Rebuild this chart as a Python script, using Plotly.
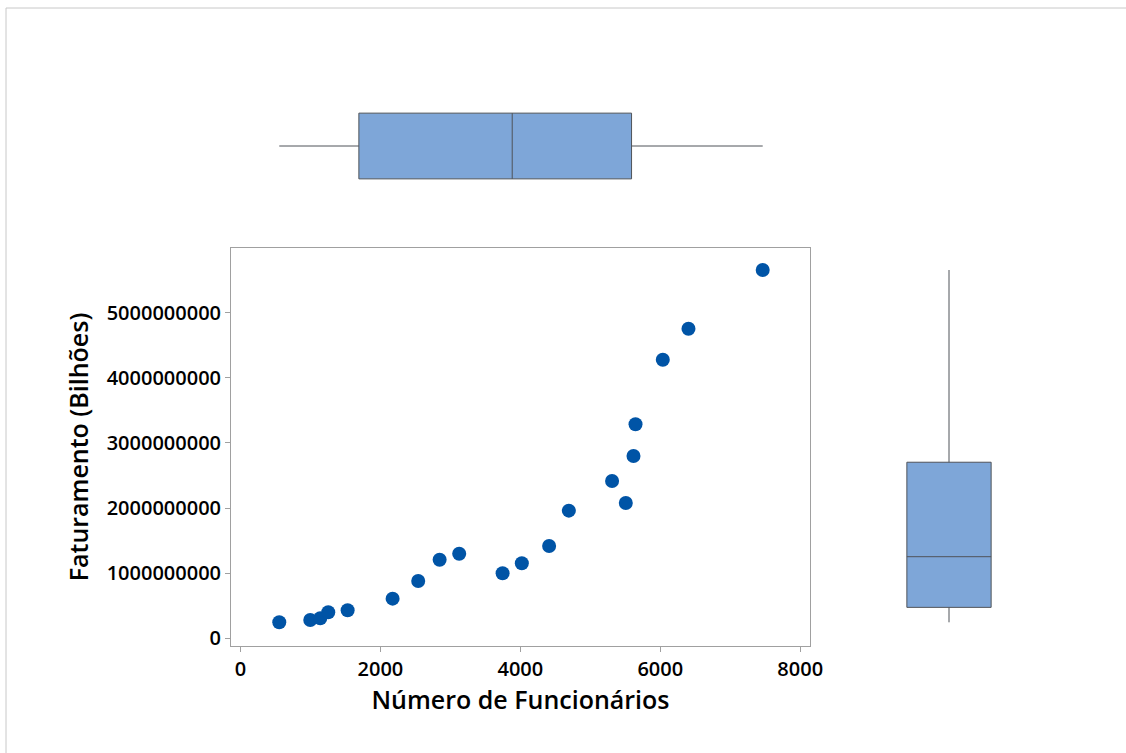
import numpy as np
import plotly.graph_objects as go

# Número de funcionários por empresa
funcionarios = [554, 997, 1140, 1254, 1531, 2174, 2540, 2846, 3126, 3746,
                4021, 4411, 4693, 5311, 5507, 5617, 5646, 6036, 6403, 7464]

# Faturamento correspondente
faturamento = [244000000, 280000000, 306000000, 398000000, 429000000,
               607000000, 879000000, 1206000000, 1298000000, 997000000,
               1151000000, 1416000000, 1959000000, 2415000000, 2077000000,
               2799000000, 3286000000, 4278000000, 4754000000, 5656000000]

x_ticks = [0, 2000, 4000, 6000, 8000]
y_ticks = [0, 1000000000, 2000000000, 3000000000, 4000000000, 5000000000]

W, H = 1126, 753
PONTO = "#0054A6"
CAIXA = "#7EA6D8"
CONTORNO = "#4F5359"
EIXO = "#A0A0A0"
FONTE = "Open Sans"


def px_x(p):
    return p / W


def px_y(p):
    return (H - p) / H


def box_stats(values):
    v = np.asarray(values, dtype=float)
    q1, med, q3 = np.percentile(v, [25, 50, 75], method="weibull")
    iqr = q3 - q1
    lo = v[v >= q1 - 1.5 * iqr].min()
    hi = v[v <= q3 + 1.5 * iqr].max()
    return dict(q1=[q1], median=[med], q3=[q3], lowerfence=[lo], upperfence=[hi])


fig = go.Figure()

fig.add_trace(go.Scatter(
    x=funcionarios, y=faturamento, mode="markers",
    marker=dict(color=PONTO, size=14, line=dict(width=0)),
    xaxis="x", yaxis="y", showlegend=False,
))

fig.add_trace(go.Box(
    orientation="h", y=[0], **box_stats(funcionarios),
    xaxis="x2", yaxis="y2", width=1, whiskerwidth=0,
    fillcolor=CAIXA, line=dict(color=CONTORNO, width=1),
    boxpoints=False, showlegend=False,
))

fig.add_trace(go.Box(
    orientation="v", x=[0], **box_stats(faturamento),
    xaxis="x3", yaxis="y3", width=1, whiskerwidth=0,
    fillcolor=CAIXA, line=dict(color=CONTORNO, width=1),
    boxpoints=False, showlegend=False,
))

tick_font = dict(family=FONTE, size=20, color="black", weight=600)
title_font = dict(family=FONTE, size=25, color="black", weight=600)

x_dom = [px_x(231), px_x(810)]
y_dom = [px_y(646), px_y(248)]

fig.update_layout(
    width=W, height=H,
    margin=dict(l=0, r=0, t=0, b=0, pad=0, autoexpand=False),
    showlegend=False,
    paper_bgcolor="white", plot_bgcolor="white",
    xaxis=dict(
        domain=x_dom, anchor="y", range=[-136, 8140], automargin=False,
        tickvals=x_ticks, ticks="outside", ticklen=5, tickcolor=EIXO,
        showline=True, mirror=True, linecolor=EIXO, linewidth=1,
        showgrid=False, zeroline=False, tickfont=tick_font,
        title=dict(text="Número de Funcionários", font=title_font, standoff=10),
    ),
    yaxis=dict(
        domain=y_dom, anchor="x", range=[-120000000, 5994000000],
        automargin=False,
        tickvals=y_ticks, tickformat="d", ticks="outside", ticklen=5,
        tickcolor=EIXO, showline=True, mirror=True, linecolor=EIXO,
        linewidth=1, showgrid=False, zeroline=False, tickfont=tick_font,
        title=dict(text="Faturamento (Bilhões)", font=title_font, standoff=10),
    ),
    xaxis2=dict(domain=x_dom, anchor="y2", matches="x", visible=False),
    yaxis2=dict(domain=[px_y(192), px_y(100)], anchor="x2",
                range=[-0.7, 0.7], visible=False),
    xaxis3=dict(domain=[px_x(890), px_x(1008)], anchor="y3",
                range=[-0.7, 0.7], visible=False),
    yaxis3=dict(domain=y_dom, anchor="x3", matches="y", visible=False),
    shapes=[
        dict(type="line", xref="paper", yref="paper",
             x0=px_x(6), x1=1, y0=px_y(8), y1=px_y(8),
             line=dict(color="#C8C8C8", width=1)),
        dict(type="line", xref="paper", yref="paper",
             x0=px_x(6), x1=px_x(6), y0=0, y1=px_y(8),
             line=dict(color="#C8C8C8", width=1)),
    ],
)

fig.write_html(
    "out.html",
    post_script="document.body.style.margin='0';document.body.style.overflow='hidden';",
)
